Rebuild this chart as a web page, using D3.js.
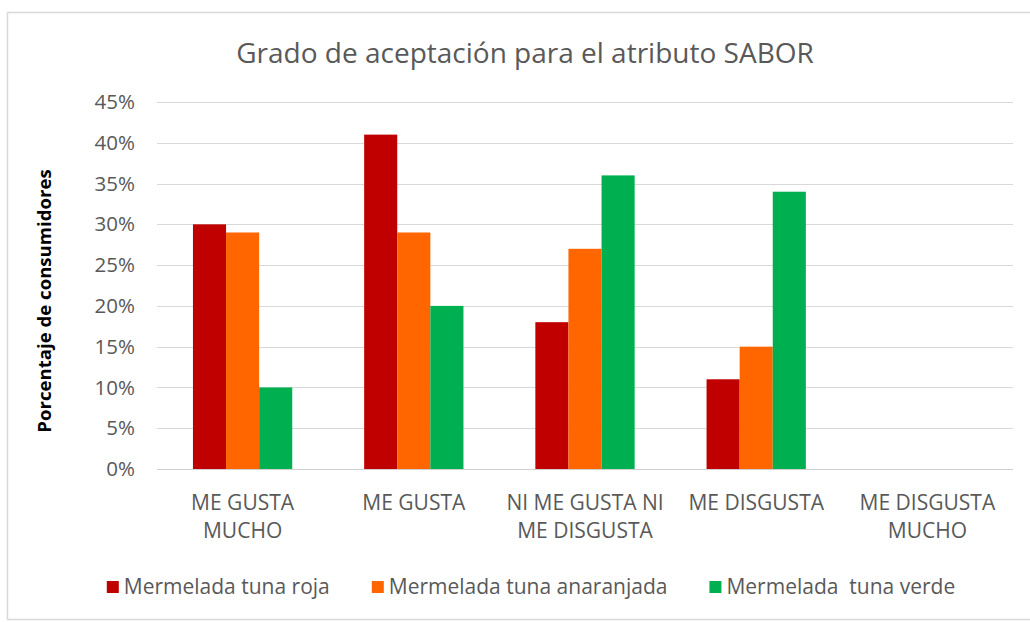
<!DOCTYPE html>
<html lang="es">
<head>
<meta charset="UTF-8">
<title>Grado de aceptación para el atributo SABOR</title>
<script src="https://cdn.jsdelivr.net/npm/d3@7"></script>
<style>
  html, body { margin: 0; padding: 0; background: #fff; overflow: hidden; }
  svg { display: block; }
</style>
</head>
<body>
<script>
  // data
  var categories = ["ME GUSTA MUCHO", "ME GUSTA", "NI ME GUSTA NI ME DISGUSTA", "ME DISGUSTA", "ME DISGUSTA MUCHO"];
  var categoryLines = [["ME GUSTA", "MUCHO"], ["ME GUSTA"], ["NI ME GUSTA NI", "ME DISGUSTA"], ["ME DISGUSTA"], ["ME DISGUSTA", "MUCHO"]];
  var seriesNames = ["Mermelada tuna roja", "Mermelada tuna anaranjada", "Mermelada  tuna verde"];
  var seriesColors = ["#C00000", "#FF6600", "#00B050"];
  var roja = [30, 41, 18, 11, 0];
  var anaranjada = [29, 29, 27, 15, 0];
  var verde = [10, 20, 36, 34, 0];
  var yTicks = [0, 5, 10, 15, 20, 25, 30, 35, 40, 45];

  drawChart();

  function drawChart() {
    var width = 1030, height = 622;
    var left = 157, right = 1013, top = 102, bottom = 469;
    var font = "'Open Sans', 'Noto Sans', sans-serif";
    var textColor = "#595959";

    var svg = d3.select("body").append("svg")
      .attr("width", width)
      .attr("height", height);

    // chart frame (right edge runs off the picture)
    svg.append("rect")
      .attr("x", 7.5).attr("y", 12.5)
      .attr("width", 1040).attr("height", 607)
      .attr("fill", "#fff")
      .attr("stroke", "#d9d9d9")
      .attr("stroke-width", 1.5);

    svg.append("text")
      .attr("x", 525).attr("y", 63)
      .attr("text-anchor", "middle")
      .attr("font-family", font)
      .attr("font-size", 28)
      .attr("fill", textColor)
      .text("Grado de aceptación para el atributo SABOR");

    var x0 = d3.scaleBand().domain(categories).range([left, right]).paddingInner(0.42).paddingOuter(0.21);
    var x1 = d3.scaleBand().domain(seriesNames).range([0, x0.bandwidth()]);
    var y = d3.scaleLinear().domain([0, 45]).range([bottom, top]);

    // gridlines
    svg.append("g").selectAll("line")
      .data(yTicks)
      .join("line")
      .attr("x1", left).attr("x2", right)
      .attr("y1", d => Math.round(y(d)) + 0.5)
      .attr("y2", d => Math.round(y(d)) + 0.5)
      .attr("stroke", "#d9d9d9")
      .attr("stroke-width", 1);

    // y axis labels
    var yAxis = svg.append("g")
      .attr("transform", "translate(" + left + ",0)")
      .call(d3.axisLeft(y).tickValues(yTicks).tickSize(0).tickPadding(22).tickFormat(d => d + "%"));
    yAxis.select(".domain").remove();
    yAxis.selectAll("text")
      .attr("font-family", font)
      .attr("font-size", 20.5)
      .attr("fill", textColor);

    // bars
    var seriesValues = [roja, anaranjada, verde];
    var rows = [];
    categories.forEach(function (c, i) {
      seriesNames.forEach(function (s, j) {
        rows.push({cat: c, series: s, value: seriesValues[j][i], color: seriesColors[j]});
      });
    });

    svg.append("g").selectAll("rect")
      .data(rows.filter(d => d.value > 0))
      .join("rect")
      .attr("x", d => x0(d.cat) + x1(d.series))
      .attr("y", d => y(d.value))
      .attr("width", x1.bandwidth())
      .attr("height", d => y(0) - y(d.value))
      .attr("fill", d => d.color);

    // baseline
    svg.append("line")
      .attr("x1", left).attr("x2", right)
      .attr("y1", Math.round(y(0)) + 0.5).attr("y2", Math.round(y(0)) + 0.5)
      .attr("stroke", "#d0d0d0");

    // category labels
    var xl = svg.append("g").selectAll("text")
      .data(categories)
      .join("text")
      .attr("x", d => x0(d) + x0.bandwidth() / 2)
      .attr("y", bottom + 41)
      .attr("text-anchor", "middle")
      .attr("font-family", font)
      .attr("font-size", 21)
      .attr("fill", textColor);
    xl.each(function (d, i) {
      var t = d3.select(this);
      categoryLines[i].forEach(function (line, k) {
        t.append("tspan")
          .attr("x", x0(d) + x0.bandwidth() / 2)
          .attr("dy", k === 0 ? 0 : 28)
          .text(line);
      });
    });

    // y title
    svg.append("text")
      .attr("transform", "translate(51,301) rotate(-90)")
      .attr("text-anchor", "middle")
      .attr("font-family", font)
      .attr("font-weight", "bold")
      .attr("font-size", 18.6)
      .attr("fill", "#000")
      .text("Porcentaje de consumidores");

    // legend
    var legend = svg.append("g");
    var lx = 0;
    seriesNames.forEach(function (s, j) {
      var item = legend.append("g").attr("transform", "translate(" + lx + ",0)");
      item.append("rect")
        .attr("x", 0).attr("y", 581)
        .attr("width", 12).attr("height", 12)
        .attr("fill", seriesColors[j]);
      var t = item.append("text")
        .attr("x", 17).attr("y", 594)
        .attr("font-family", font)
        .attr("font-size", 21)
        .attr("fill", textColor)
        .attr("xml:space", "preserve")
        .style("white-space", "pre")
        .text(s);
      lx += 17 + t.node().getComputedTextLength() + 42;
    });
    var legendWidth = lx - 42;
    legend.attr("transform", "translate(" + (531 - legendWidth / 2) + ",0)");
  }
</script>
</body>
</html>
